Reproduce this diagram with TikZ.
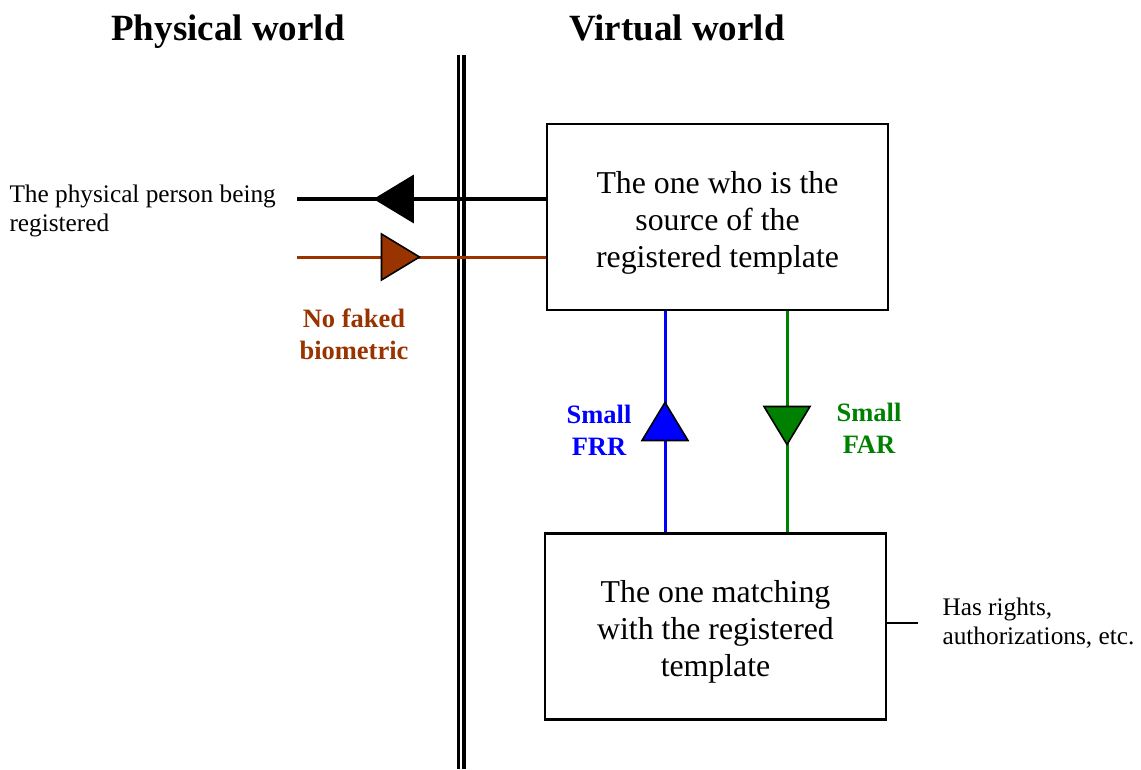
\documentclass[tikz,border=0pt]{standalone}
\usepackage{fontspec}
\setmainfont{Liberation Serif}
\definecolor{fakebrown}{HTML}{993300}
\definecolor{frrblue}{HTML}{0000FF}
\definecolor{fargreen}{HTML}{008000}
\tikzset{
  pics/marker/.style={code={
    \filldraw[line width=1.6pt,line join=miter,fill=#1] (-19,-23) -- (19,0) -- (-19,23) -- cycle;}}
}
\newcommand{\toppad}{\rule{0pt}{33pt}}
\begin{document}
\begin{tikzpicture}[x=1pt,y=-1pt]
\tikzstyle{bb}= [rectangle,draw,line width=2.4pt,minimum width=341pt,minimum height=186pt,align=center,font=\fontsize{31.8}{37}\selectfont]
\tikzstyle{title}= [anchor=base,font=\fontsize{37}{44}\selectfont\bfseries]
\tikzstyle{note}= [align=left,font=\fontsize{25.3}{29.5}\selectfont]
\tikzstyle{tag}= [align=center,font=\fontsize{26.5}{32}\selectfont\bfseries]
\useasboundingbox (0,0) rectangle (1141,769);

\path
	(717.5,217)   node[bb] (src) {\toppad The one who is the\\source of the\\registered template}
	(715.5,626.5) node[bb] (low) {\toppad The one matching\\with the registered\\template}
	(228,40.5) node[title] (phys) {Physical world}
	(677,40.5) node[title] (virt) {Virtual world}
;
% border between the two worlds
\coordinate (wtop) at (461,55);
\coordinate (wbot) at (461,769);
\draw[line width=3.5pt,double,double distance=2pt] (wtop) -- (wbot);

% physical person <-> source
\coordinate (pA) at (297,199);
\coordinate (pB) at (297,257);
\draw[line width=4.5pt] (src.west |- pA) -- (pA);
\draw[line width=3pt,fakebrown] (src.west |- pB) -- (pB);
\pic[rotate=180] at (394,199) {marker=black};
\pic at (400.5,257) {marker=fakebrown};
\node[note,anchor=west] (person) at (6,211) {The physical person being\\registered};
\node[tag,text=fakebrown] (fake) at (354,334) {No faked\\biometric};

% FRR / FAR links
\coordinate (cFRR) at (665,0);
\coordinate (cFAR) at (787,0);
\draw[line width=3pt,frrblue] (src.south -| cFRR) -- (low.north -| cFRR);
\draw[line width=3pt,fargreen] (src.south -| cFAR) -- (low.north -| cFAR);
\pic[rotate=90] at (665,421.5) {marker=frrblue};
\pic[rotate=-90] at (787,425.5) {marker=fargreen};
\node[tag,text=frrblue] (frr) at (599,430) {Small\\FRR};
\node[tag,text=fargreen] (far) at (869,428) {Small\\FAR};

% rights
\node[note,anchor=west] (rights) at (939,623) {Has rights,\\authorizations, etc.};
\coordinate (tick) at (918,623);
\draw[line width=2pt] (tick -| low.east) -- (tick);
\end{tikzpicture}
\end{document}
